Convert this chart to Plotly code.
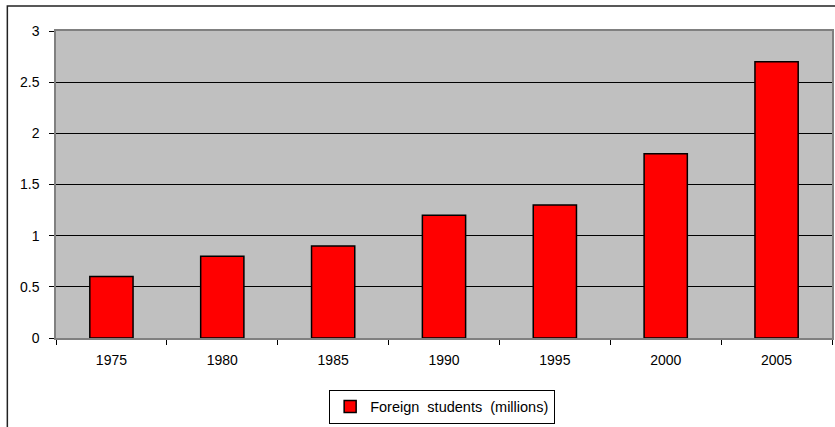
import plotly.graph_objects as go

years = ["1975", "1980", "1985", "1990", "1995", "2000", "2005"]
students = [0.6, 0.8, 0.9, 1.2, 1.3, 1.8, 2.7]
series_name = "Foreign\u00a0\u00a0students\u00a0\u00a0(millions)"
y_ticks = [0, 0.5, 1, 1.5, 2, 2.5, 3]
y_tick_labels = ["0", "0.5", "1", "1.5", "2", "2.5", "3"]

fig = go.Figure()
fig.add_trace(go.Bar(
    x=years, y=students, name=series_name,
    marker=dict(color="#FF0000", line=dict(color="#000000", width=1.5)),
    width=0.39,
))

fig.update_layout(
    width=835, height=427,
    margin=dict(l=56, r=3, t=31, b=87),
    paper_bgcolor="white", plot_bgcolor="#C0C0C0",
    font=dict(family="Liberation Sans, Arial", size=14, color="black"),
    showlegend=True,
    legend=dict(
        orientation="h", x=0.352, xanchor="left", y=-0.168, yanchor="top",
        bordercolor="black", borderwidth=1, bgcolor="white",
        font=dict(size=14.5),
    ),
    shapes=[dict(
        type="rect", xref="paper", yref="paper",
        x0=-0.0627, x1=1.2, y0=-0.5, y1=1.0817,
        line=dict(color="#222222", width=1.5), fillcolor="rgba(0,0,0,0)",
        layer="below",
    )],
)
fig.update_xaxes(
    type="category", tickson="boundaries", ticks="outside", ticklen=5,
    tickcolor="black", showline=True, linecolor="#808080", linewidth=1.5,
    mirror=True, showgrid=False, automargin=False, ticklabelstandoff=8,
)
fig.update_yaxes(
    range=[0, 3], tickmode="array", tickvals=y_ticks, ticktext=y_tick_labels,
    ticks="outside", ticklen=5, tickcolor="black",
    showgrid=True, gridcolor="black", gridwidth=1,
    showline=True, linecolor="#808080", linewidth=1.5, mirror=True,
    zeroline=False, automargin=False, ticklabelstandoff=7,
)

fig.write_html(
    "out.html",
    config={"displayModeBar": False},
    post_script="document.body.style.margin='0px';document.body.style.overflow='hidden';",
)
